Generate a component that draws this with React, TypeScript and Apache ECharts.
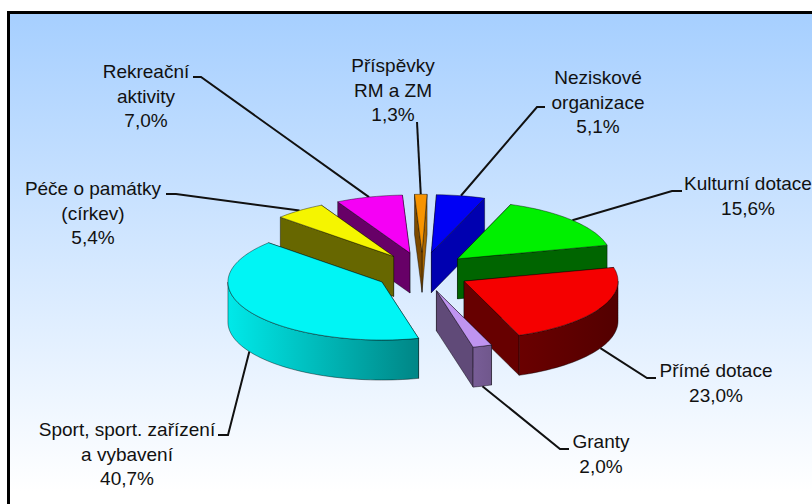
import React, { useEffect, useRef } from "react";
import * as echarts from "echarts";

// Clockwise from the top of the pie
const categories = [
  "Příspěvky\nRM a ZM",
  "Neziskové\norganizace",
  "Kulturní dotace",
  "Přímé dotace",
  "Granty",
  "Sport, sport. zařízení\na vybavení",
  "Péče o památky\n(církev)",
  "Rekreační\naktivity",
];
const values = [1.3, 5.1, 15.6, 23.0, 2.0, 40.7, 5.4, 7.0];

// Painter's order of the slices, back to front
const drawOrder = [0, 1, 7, 6, 2, 5, 3, 4];

const topColors = ["#F79400", "#0000F5", "#00F000", "#F50000", "#BF94F0", "#00F5F5", "#F5F500", "#F500F5"];
const startFaceShade = [0.5, 0.72, 0.4, 0.4, 0.5, 0.4, 0.42, 0.42];
const endFaceShade = [0.68, 0.72, 0.42, 0.42, 0.5, 0.4, 0.42, 0.42];
const wallGain = [1, 1, 1, 0.85, 1.15, 1, 1, 1];

// Label centre (x, y of block centre), leader knee x,y and leader end x
const labelBox = [
  [393, 90],
  [598, 102],
  [748, 196],
  [716, 383],
  [601, 454],
  [127, 454],
  [93, 213],
  [146, 96],
];
const leaderKnee = [
  [417, 122],
  [537, 107],
  [672, 191],
  [647, 378],
  [560, 449],
  [228, 435],
  [176, 194],
  [201, 77],
];
const leaderEnd = [
  [417, 122],
  [545, 107],
  [682, 191],
  [656, 378],
  [569, 449],
  [218, 435],
  [166, 194],
  [193, 77],
];

const CX = 422.4;
const CY = 272;
const RX = 154;
const RY = 58;
const DEPTH = 40;
const EXPLODE_X = 47;
const EXPLODE_Y = 19.7;
const START_DEG = -2.8;

const total = values.reduce((a, b) => a + b, 0);
const rad = (d: number) => (d * Math.PI) / 180;

function shade(hex: string, f: number) {
  const n = parseInt(hex.slice(1), 16);
  const c = [(n >> 16) & 255, (n >> 8) & 255, n & 255].map((v) => Math.round(v * f));
  return `rgb(${c[0]},${c[1]},${c[2]})`;
}

function wallShade(s: number) {
  return Math.max(0.4, 0.625 - 0.325 * s);
}

function renderItem(_params: any, api: any) {
  const idx = api.value(0) as number;
  const value = api.value(1) as number;
  let before = 0;
  for (let i = 0; i < idx; i++) before += values[i];
  const a0 = START_DEG + (before / total) * 360;
  const a1 = a0 + (value / total) * 360;
  const mid = (a0 + a1) / 2;
  const ax = CX + EXPLODE_X * Math.sin(rad(mid));
  const ay = CY - EXPLODE_Y * Math.cos(rad(mid));
  const pt = (t: number, d = 0): number[] => [ax + RX * Math.sin(rad(t)), ay - RY * Math.cos(rad(t)) + d];
  const arc = (from: number, to: number, d = 0) => {
    const out: number[][] = [];
    const n = Math.max(2, Math.ceil((to - from) / 2));
    for (let i = 0; i <= n; i++) out.push(pt(from + ((to - from) * i) / n, d));
    return out;
  };
  const color = topColors[idx];
  const edge = { stroke: "rgba(0,0,0,0.6)", lineWidth: 0.7 };
  const children: any[] = [];

  const lead = pt(mid, Math.cos(rad(mid)) < 0 ? DEPTH : 0);
  children.push({
    type: "polyline",
    shape: { points: [lead, leaderKnee[idx], leaderEnd[idx]] },
    style: { stroke: "#111", lineWidth: 2, fill: "none" },
  });

  const face = (t: number, f: number) => ({
    type: "polygon",
    shape: { points: [[ax, ay], pt(t), pt(t, DEPTH), [ax, ay + DEPTH]] },
    style: { fill: shade(color, f), ...edge },
  });
  const startFace = face(a0, startFaceShade[idx]);
  const endFace = face(a1, endFaceShade[idx]);
  if (pt(a0)[1] < pt(a1)[1]) children.push(startFace, endFace);
  else children.push(endFace, startFace);

  const w0 = Math.max(a0, 90);
  const w1 = Math.min(a1, 270);
  if (w1 > w0) {
    const sA = Math.sin(rad(w0));
    const sB = Math.sin(rad(w1));
    children.push({
      type: "polygon",
      shape: { points: arc(w0, w1).concat(arc(w0, w1, DEPTH).reverse()) },
      style: {
        fill: new echarts.graphic.LinearGradient(0, 0, 1, 0, [
          { offset: 0, color: shade(color, wallShade(Math.min(sA, sB)) * wallGain[idx]) },
          { offset: 1, color: shade(color, wallShade(Math.max(sA, sB)) * wallGain[idx]) },
        ]),
        ...edge,
      },
    });
  }

  children.push({
    type: "polygon",
    shape: { points: [[ax, ay], ...arc(a0, a1)] },
    style: { fill: color, ...edge },
  });

  children.push({
    type: "text",
    style: {
      text: `${categories[idx]}\n${value.toFixed(1).replace(".", ",")}%`,
      x: labelBox[idx][0],
      y: labelBox[idx][1],
      fill: "#111",
      font: '19px "Liberation Sans", Arial, sans-serif',
      lineHeight: 24.5,
      align: "center",
      verticalAlign: "middle",
    },
  });
  return { type: "group", children };
}

export default function App() {
  const ref = useRef<HTMLDivElement>(null);
  useEffect(() => {
    document.body.style.margin = "0";
    const chart = echarts.init(ref.current!, undefined, { renderer: "svg" });
    chart.setOption({
      animation: false,
      backgroundColor: "#fff",
      graphic: [
        {
          type: "rect",
          z: -10,
          shape: { x: 8.5, y: 12.5, width: 830, height: 520 },
          style: {
            stroke: "#000",
            lineWidth: 3,
            fill: new echarts.graphic.LinearGradient(0, 0, 0, 1, [
              { offset: 0, color: "#A6CFFF" },
              { offset: 0.92, color: "#FFFFFF" },
              { offset: 1, color: "#FFFFFF" },
            ]),
          },
        },
      ],
      series: [
        {
          type: "custom",
          coordinateSystem: "none",
          renderItem,
          data: drawOrder.map((i) => [i, values[i]]),
          silent: true,
        },
      ],
    });
    return () => chart.dispose();
  }, []);
  return <div ref={ref} style={{ width: 812, height: 504 }} />;
}
